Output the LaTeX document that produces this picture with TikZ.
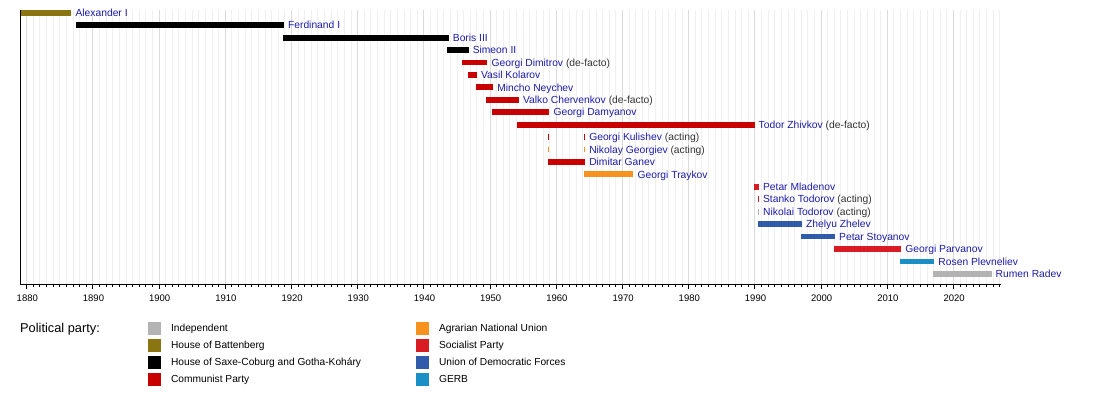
\documentclass[tikz,border=0pt]{standalone}
\usepackage{fontspec}
\setmainfont{Liberation Sans}
\usetikzlibrary{positioning}

\definecolor{battenberg}{HTML}{8B7513}
\definecolor{saxe}{HTML}{000000}
\definecolor{communist}{HTML}{C80000}
\definecolor{agrarian}{HTML}{F8921E}
\definecolor{socialist}{HTML}{D91C24}
\definecolor{udf}{HTML}{2F5BAA}
\definecolor{gerb}{HTML}{1A8FC6}
\definecolor{independent}{HTML}{B3B3B3}
\definecolor{nameblue}{HTML}{1C1CA8}
\definecolor{notegray}{HTML}{333333}

\def\rowtop{12.8}
\def\rowsep{12.43}
\def\axisy{284}

\begin{document}
\begin{tikzpicture}[x=1pt,y=-1pt,font=\fontsize{10.3}{12}\selectfont,
    declare function={yx(\t)=26.5+(\t-1880)*6.62;}]
    \tikzstyle{yearline}=[draw=black!6,line width=0.6pt]
    \tikzstyle{decadeline}=[draw=black!14,line width=0.6pt]
    \tikzstyle{who}=[anchor=west,inner sep=0pt,text height=7.4pt,text depth=0pt]
    \tikzstyle{swatch}=[minimum size=13pt,inner sep=0pt,anchor=north west]
    \tikzstyle{keytext}=[anchor=west,inner sep=0pt,text height=7.3pt,text depth=0pt,font=\fontsize{10.2}{12}\selectfont]

    \useasboundingbox (0,0) rectangle (1100,393);

    % grid, one line a year
    \foreach \yr in {1880,...,2027}
        \draw[yearline] ({yx(\yr)},10) -- ({yx(\yr)},\axisy);
    \foreach \yr in {1880,1890,...,2020}
        \draw[decadeline] ({yx(\yr)},10) -- ({yx(\yr)},\axisy);

    % axes and ticks
    \coordinate (axtop) at ({yx(1879.1)},10);
    \coordinate (axorig) at ({yx(1879.1)},\axisy);
    \coordinate (axend) at ({yx(2027.2)},\axisy);
    \draw[line width=0.8pt] (axtop) -- (axorig) -- (axend);
    \foreach \yr in {1880,...,2027}
        \draw[line width=0.6pt] ({yx(\yr)},\axisy) -- ++(0,2.5);
    \foreach \yr in {1880,1890,...,2020}{
        \draw[line width=0.6pt] ({yx(\yr)},\axisy) -- ++(0,4.5);
        \node[font=\fontsize{9.5}{11}\selectfont,inner sep=0pt] (yr\yr) at ({yx(\yr)+0.8},298.5) {\yr};
    }

    % terms of office
    \foreach \i/\s/\e/\c/\name/\note in {
        0/1879.3/1886.7/battenberg/Alexander I/,
        1/1887.5/1918.8/saxe/Ferdinand I/,
        2/1918.8/1943.7/saxe/Boris III/,
        3/1943.65/1946.7/saxe/Simeon II/,
        4/1945.9/1949.55/communist/Georgi Dimitrov/{(de-facto)},
        5/1946.7/1947.95/communist/Vasil Kolarov/,
        6/1947.95/1950.4/communist/Mincho Neychev/,
        7/1949.5/1954.3/communist/Valko Chervenkov/{(de-facto)},
        8/1950.4/1958.9/communist/Georgi Damyanov/,
        9/1954.1/1989.9/communist/Todor Zhivkov/{(de-facto)},
        10/1964.3/1964.3/communist/Georgi Kulishev/{(acting)},
        11/1964.3/1964.3/agrarian/Nikolay Georgiev/{(acting)},
        12/1958.9/1964.3/communist/Dimitar Ganev/,
        13/1964.3/1971.6/agrarian/Georgi Traykov/,
        14/1990.0/1990.55/socialist/Petar Mladenov/,
        15/1990.55/1990.55/socialist/Stanko Todorov/{(acting)},
        16/1990.58/1990.58/independent/Nikolai Todorov/{(acting)},
        17/1990.6/1997.05/udf/Zhelyu Zhelev/,
        18/1997.05/2002.05/udf/Petar Stoyanov/,
        19/2002.05/2012.05/socialist/Georgi Parvanov/,
        20/2012.05/2017.05/gerb/Rosen Plevneliev/,
        21/2017.05/2025.7/independent/Rumen Radev/}{
        \pgfmathsetmacro\ry{\rowtop+\i*\rowsep}
        \fill[\c] ({yx(\s)-0.5},\ry-2.9) rectangle ({yx(\e)+0.5},\ry+2.9);
        \node[who] (row\i) at ({yx(\e)+4.5},\ry) {\textcolor{nameblue}{\name}\ifx\note\empty\else\ \textcolor{notegray}{\note}\fi};
    }
    % first acting terms in 1958
    \fill[communist] ({yx(1958.9)-0.5},{\rowtop+10*\rowsep-2.9}) rectangle ++(1,5.8);
    \fill[agrarian] ({yx(1958.9)-0.5},{\rowtop+11*\rowsep-2.9}) rectangle ++(1,5.8);

    % legend
    \node[anchor=west,inner sep=0pt,text height=9.2pt,text depth=0pt,font=\fontsize{12.8}{14}\selectfont] (partykey) at (20,328) {Political party:};
    \foreach \n/\c/\kx/\ky/\party in {
        0/independent/148/321.5/Independent,
        1/battenberg/148/338.5/House of Battenberg,
        2/saxe/148/355.5/House of Saxe-Coburg and Gotha-Koháry,
        3/communist/148/372.5/Communist Party,
        4/agrarian/416/321.5/Agrarian National Union,
        5/socialist/416/338.5/Socialist Party,
        6/udf/416/355.5/Union of Democratic Forces,
        7/gerb/416/372.5/GERB}{
        \node[swatch,fill=\c] (key\n) at (\kx,\ky) {};
        \node[keytext,right=9.5pt of key\n] (keylbl\n) {\party};
    }
\end{tikzpicture}
\end{document}
